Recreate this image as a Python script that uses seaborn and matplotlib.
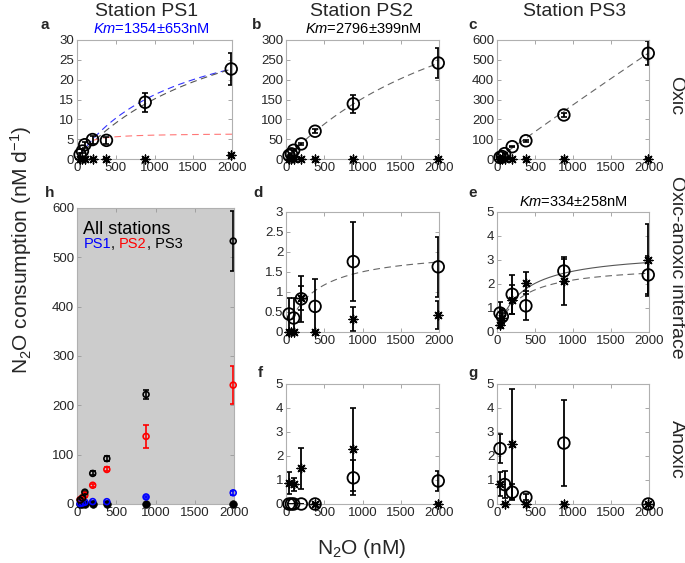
import numpy as np
import pandas as pd
import matplotlib
matplotlib.use("Agg")
import matplotlib.pyplot as plt
from matplotlib.ticker import FuncFormatter
import seaborn as sns

sns.set_style("ticks")
plt.rcParams['font.family'] = ['Liberation Sans', 'DejaVu Sans']
plt.rcParams['mathtext.fontset'] = 'custom'
plt.rcParams['mathtext.rm'] = 'Liberation Sans'
plt.rcParams['mathtext.it'] = 'Liberation Sans:italic'

nan = np.nan
conc = [40, 70, 100, 200, 380, 880, 1990]  # N2O added (nM)

# oxic (a, b, c)
a_circ = [1.1, 2.0, 3.6, 4.9, 4.7, 14.3, 22.7]
a_circ_err = [0.5, 0.5, 0.8, 1.0, 0.9, 2.35, 4.1]
a_star = [0, 0, 0, 0, 0, 0, 1.0]
a_star_err = [0, 0, 0, 0, 0, 0, 0.3]
b_circ = [9, 13, 22, 38, 70, 139, 242]
b_circ_err = [2, 2, 3, 3, 5, 23, 39]
b_star = [0, 0, 0, 0, 0, 0, 0]
b_star_err = [0, 0, 0, 0, 0, 0, 0]
c_circ = [8, 12, 27, 62, 92, 222, 533]
c_circ_err = [2, 2, 3, 4, 5, 9, 60]
c_star = [0, 0, 0, 0, 0, 0, 0]
c_star_err = [0, 0, 0, 0, 0, 0, 0]

# oxic-anoxic interface (d, e)
d_circ = [0.45, nan, 0.35, 0.83, 0.64, 1.76, 1.63]
d_circ_err = [0.4, nan, 0.5, 0.58, 0.68, 0.98, 0.75]
d_star = [0, 0, 0, 0.85, 0, 0.33, 0.43]
d_star_err = [0, 0, 0, 0.3, 0, 0.3, 0.35]
e_circ = [0.79, 0.65, nan, 1.57, 1.09, 2.54, 2.38]
e_circ_err = [0.45, 0.3, nan, 0.8, 0.6, 0.5, 0.8]
e_star = [0.28, 0.58, nan, 1.35, 2.03, 2.13, 3.02]
e_star_err = [0.1, 0.2, nan, 0.6, 0.45, 1.0, 1.5]

# anoxic (f, g)
f_circ = [0, 0, 0, 0, 0, 1.09, 0.96]
f_circ_err = [0, 0, 0, 0, 0, 0.73, 0.4]
f_star = [0.88, nan, 0.82, 1.48, 0, 2.29, 0]
f_star_err = [0.45, nan, 0.27, 0.85, 0, 1.73, 0]
g_circ = [2.31, nan, 0.81, 0.49, 0.28, 2.54, 0]
g_circ_err = [0.6, nan, 0.55, 0.33, 0.12, 1.8, 0]
g_star = [0.85, nan, 0, 2.5, 0, 0, 0]
g_star_err = [0.5, nan, 0, 2.3, 0, 0, 0]

# Michaelis-Menten fits: (Km, Vmax, colour, linestyle, start)
a_fits = [(1354, 38.1, '#3333ff', '--', 40), (2000, 45.4, '#555555', '--', 40),
          (80, 6.5, '#ff7777', '--', 200)]
b_fits = [(2796, 580, '#666666', '--', 40)]
c_fits = [(50000, 13930, '#666666', '--', 40)]
d_fits = [(388, 2.09, '#666666', '--', 70)]
e_fits = [(334, 3.38, '#555555', '-', 40), (302, 2.82, '#666666', '--', 40)]

# h: all stations, oxic
h_ps1 = a_circ
h_ps1_err = a_circ_err
h_ps2 = [9, 13, 18, 38, 70, 137, 241]
h_ps2_err = [2, 2, 3, 3, 4, 23, 39]
h_ps3 = [8, 12, 24, 62, 92, 222, 533]
h_ps3_err = [2, 2, 3, 4, 5, 9, 60]
h_zero = [0, 0, 0, 0, 0, 0, 0]

fig = plt.figure(figsize=(6.85, 5.63), dpi=100)
W, H = 685.0, 563.0


def add_ax(x0, x1, y0, y1):
    return fig.add_axes([x0 / W, 1 - y1 / H, (x1 - x0) / W, (y1 - y0) / H])


def style(ax, ymax, yticks):
    ax.set_xlim(0, 2000)
    ax.set_ylim(0, ymax)
    ax.set_xticks([0, 500, 1000, 1500, 2000])
    ax.set_yticks(yticks)
    ax.yaxis.set_major_formatter(FuncFormatter(lambda v, p: '%g' % v))
    ax.tick_params(direction='in', top=True, right=True, length=3, width=0.6,
                   color='#999999', labelsize=9.5, labelcolor='#262626', pad=2)
    for s in ax.spines.values():
        s.set_visible(True)
        s.set_color('#b0b0b0')
        s.set_linewidth(0.8)
    ax.set_xlabel('')
    ax.set_ylabel('')


def panel(ax, circ, circ_err, star, star_err, fits):
    for km, vm, col, ls, x0 in fits:
        xs = np.linspace(x0, 2000, 200)
        sns.lineplot(x=xs, y=vm * xs / (km + xs), ax=ax, color=col, linestyle=ls,
                     linewidth=0.8, estimator=None)
        if ls == '--':
            ax.lines[-1].set_dashes((6, 4))
    ax.errorbar(conc, star, yerr=star_err, fmt='none', ecolor='k', elinewidth=1.3,
                capsize=2, capthick=1.2)
    ax.errorbar(conc, circ, yerr=circ_err, fmt='none', ecolor='k', elinewidth=1.3,
                capsize=2, capthick=1.2)
    sns.scatterplot(x=conc, y=star, ax=ax, marker=(8, 2, 0), s=40, color='k',
                    edgecolor='k', linewidth=1.0, clip_on=False, zorder=4)
    sns.scatterplot(x=conc, y=circ, ax=ax, marker='o', s=70, color='k',
                    facecolor='none', edgecolor='k', linewidth=1.3, clip_on=False, zorder=5)


ax_a = add_ax(77, 232, 40, 159)
panel(ax_a, a_circ, a_circ_err, a_star, a_star_err, a_fits)
style(ax_a, 30, range(0, 31, 5))
ax_b = add_ax(286, 439, 40, 159)
panel(ax_b, b_circ, b_circ_err, b_star, b_star_err, b_fits)
style(ax_b, 300, range(0, 301, 50))
ax_c = add_ax(497, 649, 40, 159)
panel(ax_c, c_circ, c_circ_err, c_star, c_star_err, c_fits)
style(ax_c, 600, range(0, 601, 100))
ax_d = add_ax(286, 439, 212, 332)
panel(ax_d, d_circ, d_circ_err, d_star, d_star_err, d_fits)
style(ax_d, 3, np.arange(0, 3.01, 0.5))
ax_e = add_ax(497, 649, 212, 332)
panel(ax_e, e_circ, e_circ_err, e_star, e_star_err, e_fits)
style(ax_e, 5, range(0, 6))
ax_f = add_ax(286, 439, 384, 504)
panel(ax_f, f_circ, f_circ_err, f_star, f_star_err, [])
style(ax_f, 5, range(0, 6))
ax_g = add_ax(497, 649, 384, 504)
panel(ax_g, g_circ, g_circ_err, g_star, g_star_err, [])
style(ax_g, 5, range(0, 6))

# h
ax_h = add_ax(77, 234, 208, 504)
ax_h.set_facecolor('#cccccc')
sns.scatterplot(x=conc, y=h_zero, ax=ax_h, marker='o', s=30, color='k',
                edgecolor='k', linewidth=0.5, clip_on=False, zorder=3)
for vals, errs, col in [(h_ps1, h_ps1_err, 'blue'), (h_ps2, h_ps2_err, 'red'),
                        (h_ps3, h_ps3_err, 'black')]:
    ax_h.errorbar(conc, vals, yerr=errs, fmt='none', ecolor=col, elinewidth=1.2,
                  capsize=2, capthick=1.2)
    sns.scatterplot(x=conc, y=vals, ax=ax_h, marker='o', s=18, color=col,
                    facecolor='none', edgecolor=col, linewidth=1.2, clip_on=False, zorder=4)
style(ax_h, 600, range(0, 601, 100))
ax_h.text(0.04, 0.955, 'All stations', transform=ax_h.transAxes, fontsize=13,
          va='top', ha='left', color='k')
t1 = ax_h.text(0.04, 0.865, 'PS1', transform=ax_h.transAxes, fontsize=10.5,
               va='baseline', ha='left', color='blue')
t2 = ax_h.annotate(', ', xy=(1, 0), xycoords=t1, va='bottom', ha='left', fontsize=10.5, color='k')
t3 = ax_h.annotate('PS2', xy=(1, 0), xycoords=t2, va='bottom', ha='left', fontsize=10.5, color='red')
t4 = ax_h.annotate(', PS3', xy=(1, 0), xycoords=t3, va='bottom', ha='left', fontsize=10.5, color='k')

# column titles, Km labels, panel letters
for xc, s in [(147, 'Station PS1'), (362, 'Station PS2'), (575, 'Station PS3')]:
    fig.text(xc / W, 1 - 12 / H, s, ha='center', va='center', fontsize=14)
fig.text(151 / W, 1 - 29 / H, r'$Km$=1354$\pm$653nM', ha='center', va='center',
         fontsize=10.5, color='blue')
fig.text(363 / W, 1 - 29 / H, r'$Km$=2796$\pm$399nM', ha='center', va='center',
         fontsize=10.5, color='k')
fig.text(573 / W, 1 - 202 / H, r'$Km$=334$\pm$258nM', ha='center', va='center',
         fontsize=10.5, color='k')
for xc, yc, s in [(45, 25, 'a'), (257, 25, 'b'), (473, 25, 'c'), (50, 193, 'h'),
                  (258, 193, 'd'), (473, 193, 'e'), (260, 373, 'f'), (473, 373, 'g')]:
    fig.text(xc / W, 1 - yc / H, s, ha='center', va='center', fontsize=11, fontweight='bold')

# row labels
for yc, s in [(96, 'Oxic'), (267, 'Oxic-anoxic interface'), (449, 'Anoxic')]:
    fig.text(676 / W, 1 - yc / H, s, ha='center', va='center', rotation=-90, fontsize=14)

fig.text(21 / W, 1 - 250 / H, r'N$_2$O consumption (nM d$^{-1}$)', ha='center',
         va='center', rotation=90, fontsize=15)
fig.text(362 / W, 1 - 548 / H, r'N$_2$O (nM)', ha='center', va='center', fontsize=15)

fig.savefig('out.png', dpi=100)
